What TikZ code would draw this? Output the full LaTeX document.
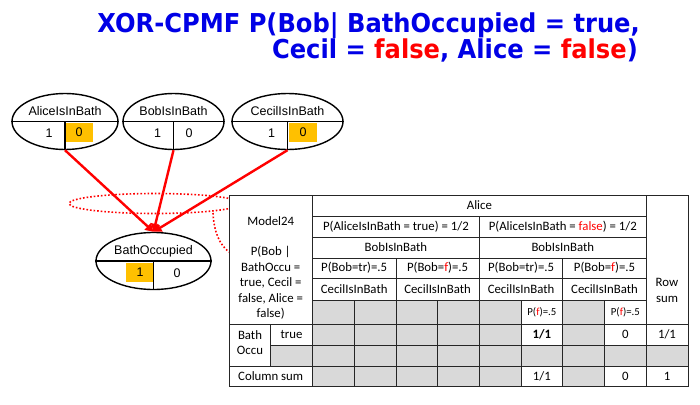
\documentclass[tikz,border=0pt]{standalone}
\usepackage{fontspec}
\setmainfont{Carlito}
\newfontfamily\nodefont{Liberation Sans}
\newfontfamily\titlefont[FakeStretch=0.93]{DejaVu Sans}
\usetikzlibrary{shapes.geometric,arrows.meta}
\definecolor{titleblue}{RGB}{0,0,230}
\definecolor{hlorange}{RGB}{255,192,0}
\definecolor{cellgray}{RGB}{217,217,217}

\begin{document}
\begin{tikzpicture}[x=1pt,y=-1pt,
	var/.style={ellipse,draw,line width=1.4pt,inner sep=0pt,minimum height=56pt},
	varline/.style={line width=1.4pt},
	lbl/.style={font=\nodefont\fontsize{12.5}{14}\selectfont,inner sep=0pt},
	hl/.style={fill=hlorange,minimum width=28pt,minimum height=19pt,inner sep=0pt,font=\nodefont\fontsize{12.5}{14}\selectfont},
	link/.style={red,line width=2.4pt,-{Triangle[length=8pt,width=9pt]}},
	ring/.style={red,dotted,line width=1.6pt},
	cell/.style={font=\fontsize{12.8}{15.5}\selectfont,inner sep=0pt,align=center},
	smallcell/.style={font=\fontsize{10.8}{12}\selectfont,inner sep=0pt},
	grid/.style={draw=black!85,line width=0.7pt}]
		\useasboundingbox[fill=white] (0,0) rectangle (700,404);
		% title
		\node[anchor=base east,inner sep=0pt,text=titleblue,font=\titlefont\bfseries\fontsize{26}{30}\selectfont] (title1) at (640,33) {XOR-CPMF P(Bob| BathOccupied = true,};
		\node[anchor=base east,inner sep=0pt,text=titleblue,font=\titlefont\bfseries\fontsize{26}{30}\selectfont] (title2) at (638,59) {Cecil = \textcolor{red}{false}, Alice = \textcolor{red}{false})};
		% parent variables
		\foreach \n/\x/\w/\t in {alice/65/106/AliceIsInBath,bob/173.5/101/BobIsInBath,cecil/287.5/111/CecilIsInBath}
		{
		\node[var,minimum width=\w pt] (\n) at (\x,121.5) {};
		\node[lbl] (\n name) at (\x,111) {\t};
		\node[lbl] (\n one) at (\x-16,133) {1};
		}
		\node[hl] (alice zero) at (79,132.5) {0};
		\node[lbl] (bob zero) at (189,133) {0};
		\node[hl] (cecil zero) at (303,132.5) {0};
		\foreach \n in {alice,bob,cecil}
		{
		\draw[varline] (\n.west) -- (\n.east);
		\draw[varline] (\n.center) -- (\n.south);
		}
		% child variable
		\node[var,minimum width=115pt,minimum height=57pt] (occ) at (153.5,261) {};
		\node[lbl] (occ name) at (153.5,251) {BathOccupied};
		\node[hl] (occ one) at (140,272.5) {1};
		\node[lbl] (occ zero) at (177,273) {0};
		\draw[varline] (occ.west) -- (occ.east);
		\draw[varline] (occ.center) -- (occ.south);
		% dotted callout
		\draw[ring] (155,203.5) ellipse (86 and 10);
		\coordinate (hookA) at (213,213);
		\coordinate (hookB) at (229,252);
		\draw[ring] (hookA) .. controls (214,233) and (220,245) .. (hookB);
		\foreach \n in {alice,bob,cecil}
		\draw[link] (\n.south) -- (occ.north);
		% table
		\fill[white] (229,195) rectangle (688,386);
		\fill[cellgray] (312.5,300) rectangle (521.1,386);
		\fill[cellgray] (562.8,300) rectangle (604.5,386);
		\fill[cellgray] (270.7,345) rectangle (688,366);
		\draw[grid] (229,195) rectangle (688,386);
		\foreach \x in {312.5,646.2}
		\draw[grid] (\x,195) -- (\x,386);
		\foreach \y in {216,237,258,278,300}
		\draw[grid] (312.5,\y) -- (646.2,\y);
		\foreach \y in {324,366}
		\draw[grid] (229,\y) -- (688,\y);
		\draw[grid] (270.7,345) -- (688,345);
		\draw[grid] (270.7,324) -- (270.7,366);
		\draw[grid] (479.4,216) -- (479.4,386);
		\foreach \x in {395.9,562.8}
		\draw[grid] (\x,258) -- (\x,386);
		\foreach \x in {354.2,437.6,521.1,604.5}
		\draw[grid] (\x,300) -- (\x,386);
		% table texts
		\node[cell] (model) at (270.7,221) {Model24};
		\node[cell] (query) at (270.7,283) {P(Bob |\\BathOccu =\\true, Cecil =\\false, Alice =\\false)};
		\node[cell] (alice col) at (479.4,205.5) {Alice};
		\node[cell] (alice true) at (395.9,226.5) {P(AliceIsInBath = true) = 1/2};
		\node[cell] (alice false) at (562.8,226.5) {P(AliceIsInBath = \textcolor{red}{false}) = 1/2};
		\foreach \x/\n in {395.9/1,562.8/2}
		\node[cell] (bob col\n) at (\x,247.5) {BobIsInBath};
		\foreach \x/\n in {354.2/1,521.1/2}
		\node[cell] (bob true\n) at (\x,268) {P(Bob=tr)=.5};
		\foreach \x/\n in {437.6/1,604.5/2}
		\node[cell] (bob false\n) at (\x,268) {P(Bob=\textcolor{red}{f})=.5};
		\foreach \x/\n in {354.2/1,437.6/2,521.1/3,604.5/4}
		\node[cell] (cecil col\n) at (\x,289) {CecilIsInBath};
		\foreach \x/\n in {541.9/1,625.4/2}
		\node[smallcell] (cecil false\n) at (\x,312) {P(\textcolor{red}{f})=.5};
		\node[cell] (row sum) at (667,290.5) {Row\\sum};
		\node[cell] (occ row) at (250,342.5) {Bath\\Occu};
		\node[cell] (occ true) at (291.6,334.5) {true};
		\node[cell,font=\bfseries\fontsize{12.8}{15.5}\selectfont] (cpt one) at (541.9,334.5) {1/1};
		\node[cell] (cpt zero) at (625.4,334.5) {0};
		\node[cell] (cpt rsum) at (667,334.5) {1/1};
		\node[cell] (col sum) at (270.7,376) {Column sum};
		\node[cell] (csum one) at (541.9,376) {1/1};
		\node[cell] (csum zero) at (625.4,376) {0};
		\node[cell] (csum all) at (667,376) {1};
\end{tikzpicture}
\end{document}
